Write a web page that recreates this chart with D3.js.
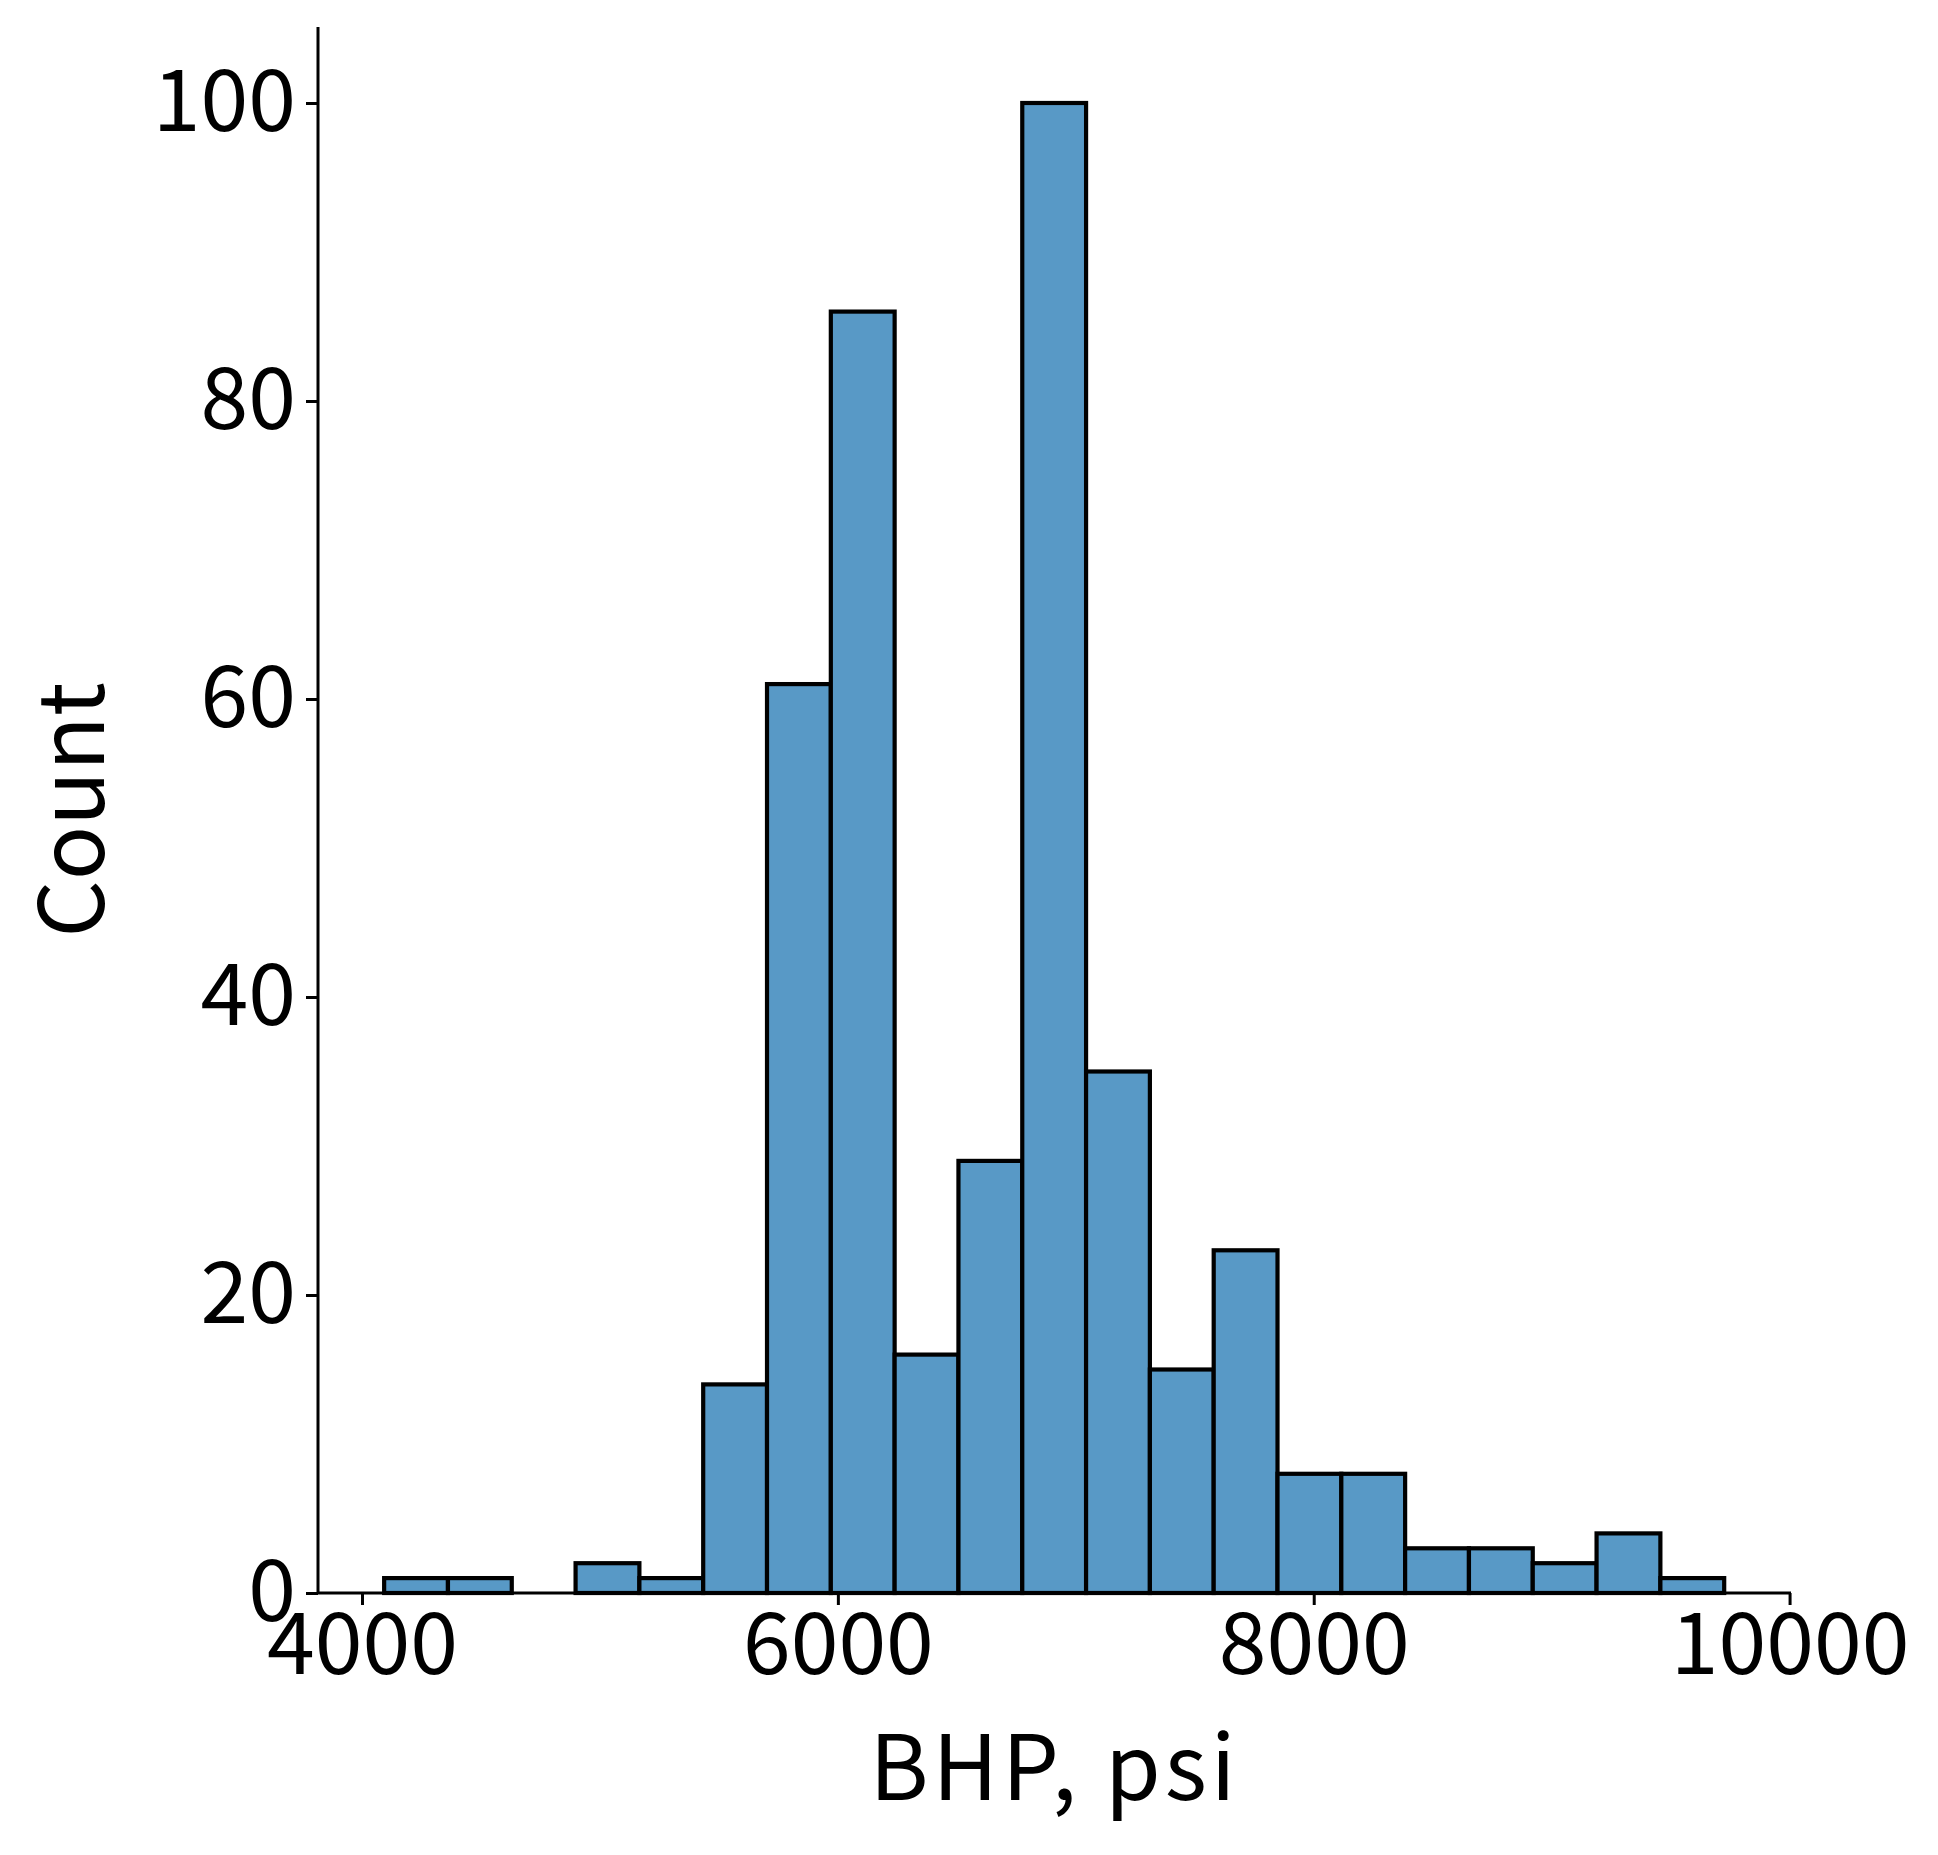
<!DOCTYPE html>
<html><head><meta charset="utf-8">
<script src="https://cdn.jsdelivr.net/npm/d3@7"></script>
<style>body{margin:0;background:#fff}text{font-family:"Noto Sans CJK SC",sans-serif;fill:#000}</style>
</head><body><svg id="c" width="1938" height="1855"></svg>
<script>
const binStart = 4093, binWidth = 268.2;
const counts = [1,1,0,2,1,14,61,86,16,29,100,35,15,23,8,8,3,3,2,4,1];
const xTicks = [4000,6000,8000,10000];
const yTicks = [0,20,40,60,80,100];
const xLabel = "BHP, psi", yLabel = "Count";

const svg = d3.select("#c");
const L=318, R=1791, T=27, B=1593;
const x = d3.scaleLinear().domain([3815,10006]).range([L,R]);
const y = d3.scaleLinear().domain([0,105.1]).range([B,T]);

svg.selectAll("rect.bar").data(counts).join("rect")
  .attr("x",(d,i)=>x(binStart+i*binWidth)).attr("width",(d,i)=>x(binStart+(i+1)*binWidth)-x(binStart+i*binWidth))
  .attr("y",d=>y(d)).attr("height",d=>B-y(d))
  .attr("fill","#5899c6").attr("stroke","#000").attr("stroke-width",4.2);

const gx = svg.append("g").attr("transform",`translate(0,${B})`)
  .call(d3.axisBottom(x).tickValues(xTicks).tickSize(12).tickPadding(8).tickFormat(d3.format("d")));
const gy = svg.append("g").attr("transform",`translate(${L},0)`)
  .call(d3.axisLeft(y).tickValues(yTicks).tickSize(12).tickPadding(10));
[gx,gy].forEach(g=>{g.selectAll("path,line").attr("stroke","#000").attr("stroke-width",3);
  g.selectAll("text").style("font-size","86px").style("font-family",'"Noto Sans CJK SC",sans-serif');});
gx.select(".domain").attr("d",`M${L},0H${R}`);
gy.select(".domain").attr("d",`M0,${B}V${T}`);

svg.append("text").attr("x",(L+R)/2).attr("y",1800).attr("text-anchor","middle")
  .style("font-size","90px").style("letter-spacing","4px").text(xLabel);
svg.append("text").attr("transform",`translate(104,${(T+B)/2}) rotate(-90)`).attr("text-anchor","middle")
  .style("font-size","90px").text(yLabel);
</script></body></html>
